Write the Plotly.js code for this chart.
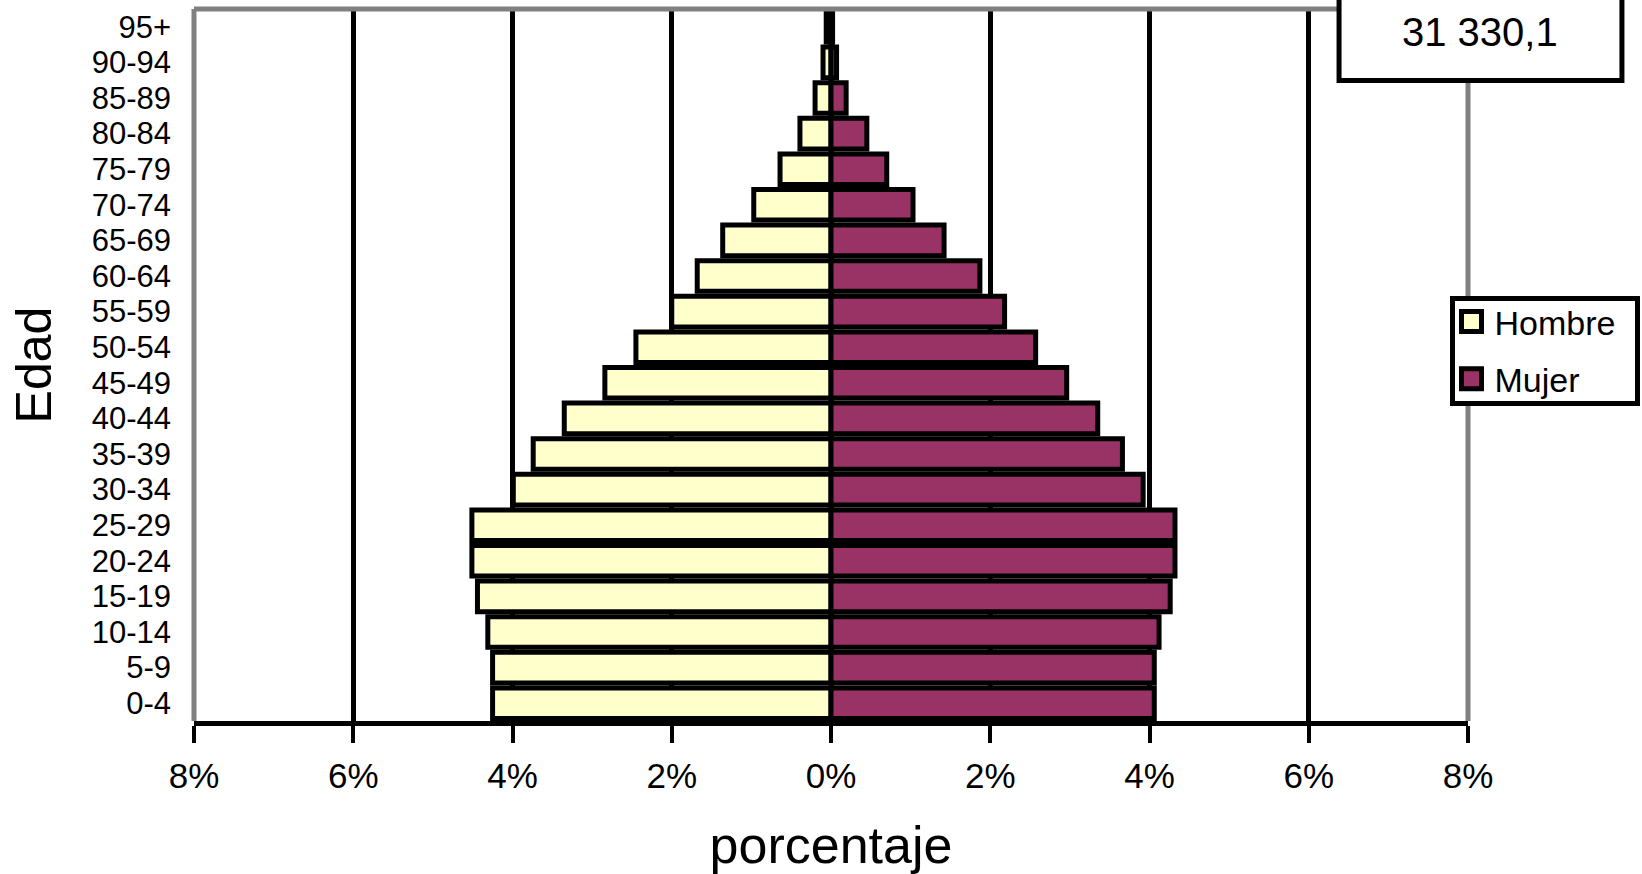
<!DOCTYPE html>
<html>
<head>
<meta charset="utf-8">
<script src="https://cdn.plot.ly/plotly-3.0.1.min.js"></script>
<style>
  html, body { margin: 0; padding: 0; background: #ffffff; }
  #chart { width: 1642px; height: 874px; }
</style>
</head>
<body>
<div id="chart"></div>
<script>
// ---- data (percent of total population) ----
var ageGroups = ["0-4", "5-9", "10-14", "15-19", "20-24", "25-29", "30-34", "35-39",
  "40-44", "45-49", "50-54", "55-59", "60-64", "65-69", "70-74", "75-79",
  "80-84", "85-89", "90-94", "95+"];
var hombre = [4.25, 4.25, 4.31, 4.44, 4.51, 4.51, 3.99, 3.74, 3.35, 2.84,
  2.45, 2.00, 1.68, 1.36, 0.97, 0.64, 0.39, 0.20, 0.10, 0.06];
var mujer = [4.06, 4.06, 4.12, 4.26, 4.32, 4.32, 3.92, 3.66, 3.35, 2.96,
  2.57, 2.18, 1.87, 1.42, 1.03, 0.70, 0.45, 0.19, 0.07, 0.02];
var xTickVals = [-8, -6, -4, -2, 0, 2, 4, 6, 8];
var xTickText = ["8%", "6%", "4%", "2%", "0%", "2%", "4%", "6%", "8%"];
var seriesNames = ["Hombre", "Mujer"];
var totalLabel = "31 330,1";

// ---- geometry helpers (pixel -> paper) ----
var W = 1642, H = 874;
var M = { l: 194, r: 173.5, t: 9, b: 153 };
var PW = W - M.l - M.r, PH = H - M.t - M.b;
function px(x) { return (x - M.l) / PW; }
function py(y) { return (H - M.b - y) / PH; }

var FONT = "Liberation Sans, Arial, sans-serif";

var data = [
  {
    type: "bar", orientation: "h", name: seriesNames[0], legendgroup: "h",
    y: ageGroups, x: hombre.map(function (v) { return -v; }),
    marker: { color: "#FFFFCC", line: { color: "#000000", width: 5 } },
    hoverinfo: "skip"
  },
  {
    type: "bar", orientation: "h", name: seriesNames[1], legendgroup: "m",
    y: ageGroups, x: mujer,
    marker: { color: "#993366", line: { color: "#000000", width: 5 } },
    hoverinfo: "skip"
  }
];

var layout = {
  width: W, height: H,
  margin: M,
  paper_bgcolor: "#ffffff", plot_bgcolor: "#ffffff",
  barmode: "overlay", bargap: 0.14,
  font: { family: FONT, color: "#000000" },
  xaxis: {
    range: [-8, 8], tickmode: "array", tickvals: xTickVals, ticktext: xTickText,
    showgrid: true, gridcolor: "#000000", gridwidth: 5, zeroline: false,
    showline: true, linecolor: "#000000", linewidth: 5,
    ticks: "outside", ticklen: 17, tickwidth: 4, tickcolor: "#000000",
    ticklabelstandoff: 3,
    tickfont: { family: FONT, size: 35, color: "#000000" },
    title: { text: "porcentaje", font: { family: FONT, size: 52, color: "#000000" }, standoff: 39 },
    fixedrange: true
  },
  yaxis: {
    type: "category", categoryorder: "array", categoryarray: ageGroups,
    tickmode: "array", tickvals: ageGroups, ticktext: ageGroups,
    range: [-0.5, ageGroups.length - 0.5],
    showgrid: false, zeroline: false, showline: false, ticks: "",
    ticklabelstandoff: 22,
    tickfont: { family: FONT, size: 31, color: "#000000" },
    title: { text: "Edad", font: { family: FONT, size: 50, color: "#000000" }, standoff: 24 },
    fixedrange: true
  },
  showlegend: true,
  legend: {
    x: px(1450), y: py(296), xanchor: "left", yanchor: "top",
    bgcolor: "#ffffff", bordercolor: "#000000", borderwidth: 5,
    font: { family: FONT, size: 34, color: "#000000" },
    tracegroupgap: 10, traceorder: "grouped"
  },
  shapes: [
    { type: "line", xref: "paper", yref: "paper", x0: 0, x1: 1, y0: 1, y1: 1, line: { color: "#808080", width: 5 }, layer: "above" },
    { type: "line", xref: "paper", yref: "paper", x0: 0, x1: 0, y0: 0, y1: 1, line: { color: "#808080", width: 5 }, layer: "above" },
    { type: "line", xref: "paper", yref: "paper", x0: 1, x1: 1, y0: 0, y1: 1, line: { color: "#808080", width: 5 }, layer: "above" },
    { type: "rect", xref: "paper", yref: "paper", x0: px(1339.5), x1: px(1622.5), y0: py(80.5), y1: py(-10),
      fillcolor: "#ffffff", line: { color: "#000000", width: 5 }, layer: "above" }
  ],
  annotations: [
    { xref: "paper", yref: "paper", x: px(1481), y: py(32), xanchor: "center", yanchor: "middle",
      text: totalLabel, showarrow: false, font: { family: FONT, size: 40, color: "#000000" } }
  ]
};

function tweakLegend(gd) {
  // larger square legend keys with thick black border, like the original
  gd.querySelectorAll(".legend .legendpoints path").forEach(function (p) {
    p.setAttribute("d", "M7,10H-13V-10H7Z");
    p.style.strokeWidth = "5px";
    p.style.stroke = "#000000";
  });
  // match legend box padding of the original
  var shift = 8, shrink = 15, widen = 14;
  gd.querySelectorAll(".legend .traces").forEach(function (t) {
    var tr = t.getAttribute("transform") || "";
    var m = tr.match(/translate\(\s*([-\d.]+)[ ,]+([-\d.]+)\s*\)/);
    if (m) t.setAttribute("transform", "translate(" + m[1] + "," + (parseFloat(m[2]) - shift) + ")");
  });
  var bg = gd.querySelector(".legend rect.bg");
  if (bg) {
    bg.setAttribute("height", parseFloat(bg.getAttribute("height")) - shrink);
    bg.setAttribute("width", parseFloat(bg.getAttribute("width")) + widen);
  }
}

Plotly.newPlot("chart", data, layout, { staticPlot: true, displayModeBar: false }).then(tweakLegend);
</script>
</body>
</html>
